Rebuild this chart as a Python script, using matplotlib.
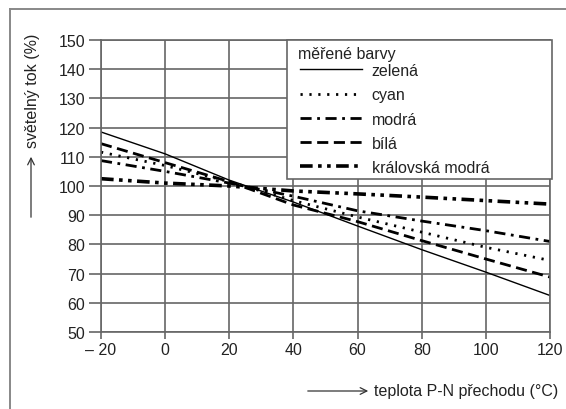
import matplotlib
matplotlib.use('Agg')
import matplotlib.pyplot as plt
from matplotlib.lines import Line2D
from matplotlib.patches import FancyArrowPatch, Rectangle

plt.rcParams['font.family'] = ['Liberation Sans', 'DejaVu Sans']

# data
teplota = [-20, 0, 20, 40, 60, 80, 100, 120]
zelena = [118.5, 111, 102, 94.5, 86.3, 78.2, 70.5, 62.5]
cyan = [111.6, 107, 101.5, 95, 89.4, 84.2, 79, 74.5]
modra = [108.7, 105, 101, 96.5, 91.5, 88, 84.7, 81]
bila = [114.5, 108, 101.5, 93.5, 87.8, 81.3, 75, 68.8]
kralovska = [102.5, 101, 100, 98.3, 97.3, 96.2, 95, 93.8]

x_ticks = [-20, 0, 20, 40, 60, 80, 100, 120]
x_labels = ['\u2013 20', '0', '20', '40', '60', '80', '100', '120']
y_ticks = [50, 60, 70, 80, 90, 100, 110, 120, 130, 140, 150]

W, H = 566, 410
fs = 11.5
txt = '#222222'
grey = '#666666'

fig = plt.figure(figsize=(W / 100, H / 100), dpi=100)
ax = fig.add_axes([101 / W, 77 / H, 449 / W, 292 / H])

ax.plot(teplota, zelena, color='black', lw=1.0, label='zelená')
ax.plot(teplota, cyan, color='black', lw=2.0, linestyle=(0, (0.8, 2.4)), label='cyan')
ax.plot(teplota, modra, color='black', lw=2.0, linestyle=(0, (4, 2, 1, 2)), label='modrá')
ax.plot(teplota, bila, color='black', lw=2.0, linestyle=(0, (4, 2)), label='bílá')
ax.plot(teplota, kralovska, color='black', lw=2.6, linestyle=(0, (3.5, 1.5, 1, 1.5, 1, 1.5)),
        label='královská modrá')

ax.set_xlim(-20, 120)
ax.set_ylim(50, 150)
ax.set_xticks(x_ticks)
ax.set_xticklabels(x_labels)
ax.set_yticks(y_ticks)
ax.grid(True, color=grey, lw=1.2)
ax.set_axisbelow(True)
for s in ax.spines.values():
    s.set_color(grey)
    s.set_linewidth(1.2)
ax.tick_params(colors=grey, labelcolor=txt, labelsize=fs, width=1.2)
ax.tick_params(axis='y', length=8.5, pad=3)
ax.tick_params(axis='x', length=5, pad=2.5)

# legend: frame and title drawn by hand, entries from a figure legend on top
fig.add_artist(Rectangle((287 / W, 1 - 180 / H), 265 / W, 139 / H, transform=fig.transFigure,
                         facecolor='white', edgecolor=grey, lw=1.2, zorder=5))
fig.text(298 / W, 1 - 55 / H, 'měřené barvy', ha='left', va='center', fontsize=fs,
         color=txt, zorder=6)
handles, labels = ax.get_legend_handles_labels()
leg = fig.legend(handles, labels, loc='upper left', bbox_to_anchor=(292 / W, 1 - 56 / H),
                 bbox_transform=fig.transFigure, fontsize=fs, handlelength=3.9,
                 handletextpad=0.6, labelspacing=0.58, borderpad=0.0, frameon=False)
leg.set_zorder(7)
for t in leg.get_texts():
    t.set_color(txt)

# axis labels with arrows
fig.text(33 / W, 1 - 34 / H, 'světelný tok (%)', rotation=90, ha='center', va='top',
         fontsize=fs, color=txt)
fig.add_artist(FancyArrowPatch((31 / W, 1 - 221 / H), (31 / W, 1 - 155 / H),
                               transform=fig.transFigure, arrowstyle='->', mutation_scale=12,
                               lw=0.9, color='#333333'))
fig.text(374 / W, 1 - 392 / H, 'teplota P-N přechodu (°C)', ha='left', va='center',
         fontsize=fs, color=txt)
fig.add_artist(FancyArrowPatch((305 / W, 1 - 392 / H), (371 / W, 1 - 392 / H),
                               transform=fig.transFigure, arrowstyle='->', mutation_scale=12,
                               lw=0.9, color='#333333'))

# outer frame (top and left only)
fig.add_artist(Line2D([10 / W, 1], [1 - 10 / H, 1 - 10 / H], transform=fig.transFigure,
                      color='#888888', lw=1.4))
fig.add_artist(Line2D([10 / W, 10 / W], [0, 1 - 10 / H], transform=fig.transFigure,
                      color='#888888', lw=1.4))

fig.savefig('out.png', dpi=100)
